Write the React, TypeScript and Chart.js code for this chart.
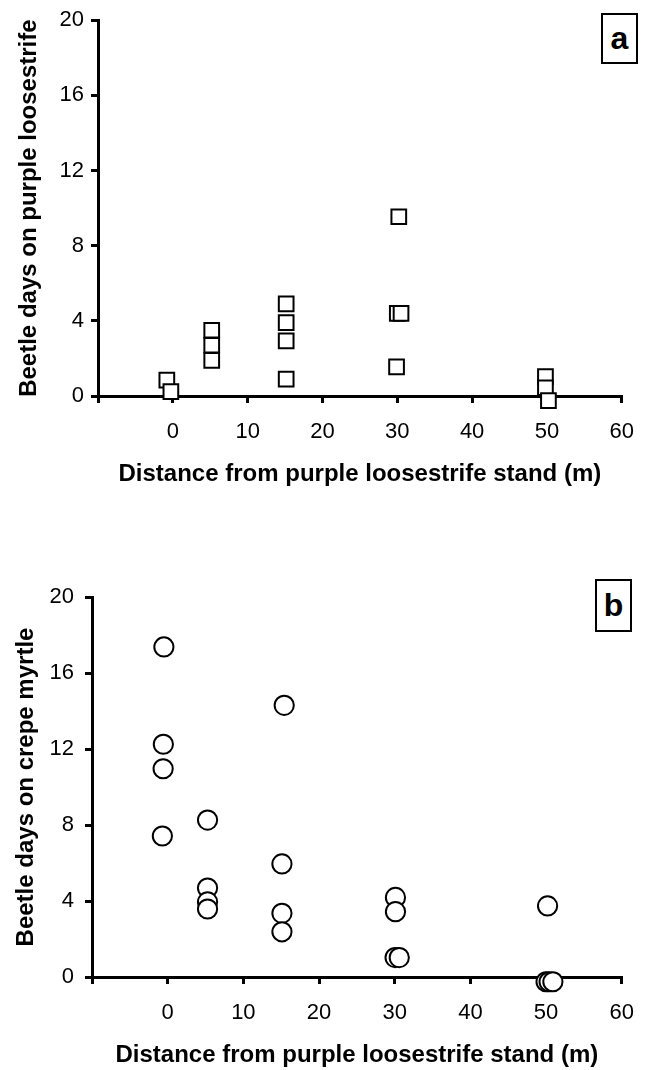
import React, { useEffect, useRef } from "react";
import Chart from "chart.js/auto";

// Panel a: beetle days on purple loosestrife
const aDistance = [-0.8, -0.26, 5.2, 5.2, 5.2, 15.15, 15.15, 15.15, 15.15, 30.2, 30.0, 30.5, 29.9, 49.8, 49.8, 50.2];
const aBeetleDays = [0.85, 0.23, 3.5, 2.7, 1.9, 4.9, 3.9, 2.93, 0.9, 9.54, 4.4, 4.4, 1.55, 1.03, 0.44, -0.25];

// Panel b: beetle days on crepe myrtle
const bDistance = [-0.5, -0.57, -0.6, -0.7, 5.27, 5.27, 5.27, 5.27, 15.4, 15.1, 15.1, 15.1, 30.1, 30.1, 30.05, 30.6, 50.2, 50.0, 50.4, 50.9];
const bBeetleDays = [17.37, 12.25, 10.96, 7.42, 8.26, 4.68, 3.95, 3.58, 14.3, 5.95, 3.35, 2.38, 4.19, 3.44, 1.02, 1.02, 3.74, -0.25, -0.25, -0.25];

const xTicks = [-10, 0, 10, 20, 30, 40, 50, 60];
const yTicks = [0, 4, 8, 12, 16, 20];

const xTitle = "Distance from purple loosestrife stand (m)";
const aYTitle = "Beetle days on purple loosestrife";
const bYTitle = "Beetle days on crepe myrtle";

const FONT = "'Liberation Sans', Arial, Helvetica, sans-serif";

type PanelCfg = {
  xs: number[];
  ys: number[];
  yTitle: string;
  pointStyle: string;
  radius: number;
  height: number;
  padTop: number;
  padRight: number;
  yAxisWidth: number;
  xAxisHeight: number;
  yTickPad: number;
  xTitlePadBottom: number;
  yTitlePadTop: number;
};

function Panel({ cfg, top, label, box }: { cfg: PanelCfg; top: number; label: string; box: { left: number; top: number; w: number; h: number } }) {
  const ref = useRef<HTMLCanvasElement | null>(null);
  useEffect(() => {
    if (!ref.current) return;
    const data = cfg.xs.map((x, i) => ({ x, y: cfg.ys[i] }));
    const chart = new Chart(ref.current, {
      type: "scatter",
      data: {
        datasets: [
          {
            data,
            pointStyle: cfg.pointStyle as any,
            pointRadius: cfg.radius,
            pointBorderWidth: 2,
            pointBorderColor: "#000",
            pointBackgroundColor: "#fff",
            clip: false as any,
          },
        ],
      },
      options: {
        responsive: false,
        animation: false,
        devicePixelRatio: 1,
        layout: { padding: { top: cfg.padTop, right: cfg.padRight, left: 0, bottom: 0 } },
        plugins: { legend: { display: false }, tooltip: { enabled: false } },
        scales: {
          x: {
            type: "linear",
            min: xTicks[0],
            max: xTicks[xTicks.length - 1],
            afterBuildTicks: (s: any) => {
              s.ticks = xTicks.map((v) => ({ value: v }));
            },
            afterFit: (s: any) => {
              s.height = cfg.xAxisHeight;
            },
            border: { display: true, width: 3, color: "#000" },
            grid: { drawOnChartArea: false, drawTicks: true, tickLength: 7, lineWidth: 3, color: "#000" },
            ticks: {
              autoSkip: false,
              maxRotation: 0,
              padding: 16,
              color: "#000",
              font: { family: FONT, size: 22 },
              callback: (v: any) => (Number(v) === -10 ? "" : String(v)),
            },
            title: {
              display: true,
              text: xTitle,
              color: "#000",
              font: { family: FONT, size: 24, weight: "bold" },
              padding: { top: 0, bottom: cfg.xTitlePadBottom },
            },
          },
          y: {
            type: "linear",
            min: yTicks[0],
            max: yTicks[yTicks.length - 1],
            afterBuildTicks: (s: any) => {
              s.ticks = yTicks.map((v) => ({ value: v }));
            },
            afterFit: (s: any) => {
              s.width = cfg.yAxisWidth;
            },
            border: { display: true, width: 3, color: "#000" },
            grid: { drawOnChartArea: false, drawTicks: true, tickLength: 7, lineWidth: 3, color: "#000" },
            ticks: {
              autoSkip: false,
              padding: cfg.yTickPad,
              color: "#000",
              font: { family: FONT, size: 22 },
            },
            title: {
              display: true,
              text: cfg.yTitle,
              color: "#000",
              font: { family: FONT, size: 24, weight: "bold" },
              padding: { top: cfg.yTitlePadTop, bottom: 0 },
            },
          },
        },
      },
    });
    return () => chart.destroy();
  }, []);
  return (
    <>
      <canvas
        ref={ref}
        width={650}
        height={cfg.height}
        style={{ position: "absolute", left: 0, top, width: 650, height: cfg.height }}
      />
      <div
        style={{
          position: "absolute",
          left: box.left,
          top: box.top,
          width: box.w,
          height: box.h,
          boxSizing: "border-box",
          border: "2.5px solid #000",
          display: "flex",
          alignItems: "center",
          justifyContent: "center",
          fontFamily: FONT,
          fontWeight: "bold",
          fontSize: 32,
          color: "#000",
          background: "#fff",
        }}
      >
        {label}
      </div>
    </>
  );
}

const panelA: PanelCfg = {
  xs: aDistance,
  ys: aBeetleDays,
  yTitle: aYTitle,
  pointStyle: "rect",
  radius: 10.4,
  height: 500,
  padTop: 20,
  padRight: 24,
  yAxisWidth: 98,
  xAxisHeight: 104,
  yTickPad: 7,
  xTitlePadBottom: 11,
  yTitlePadTop: 15,
};

const panelB: PanelCfg = {
  xs: bDistance,
  ys: bBeetleDays,
  yTitle: bYTitle,
  pointStyle: "circle",
  radius: 9.6,
  height: 550,
  padTop: 77,
  padRight: 28,
  yAxisWidth: 92,
  xAxisHeight: 93,
  yTickPad: 11,
  xTitlePadBottom: 0,
  yTitlePadTop: 12,
};

export default function App() {
  return (
    <div style={{ position: "absolute", left: 0, top: 0, width: 650, height: 1070, background: "#fff" }}>
      <Panel cfg={panelA} top={0} label="a" box={{ left: 601, top: 13, w: 37, h: 51 }} />
      <Panel cfg={panelB} top={520} label="b" box={{ left: 595, top: 579, w: 37, h: 53 }} />
    </div>
  );
}
